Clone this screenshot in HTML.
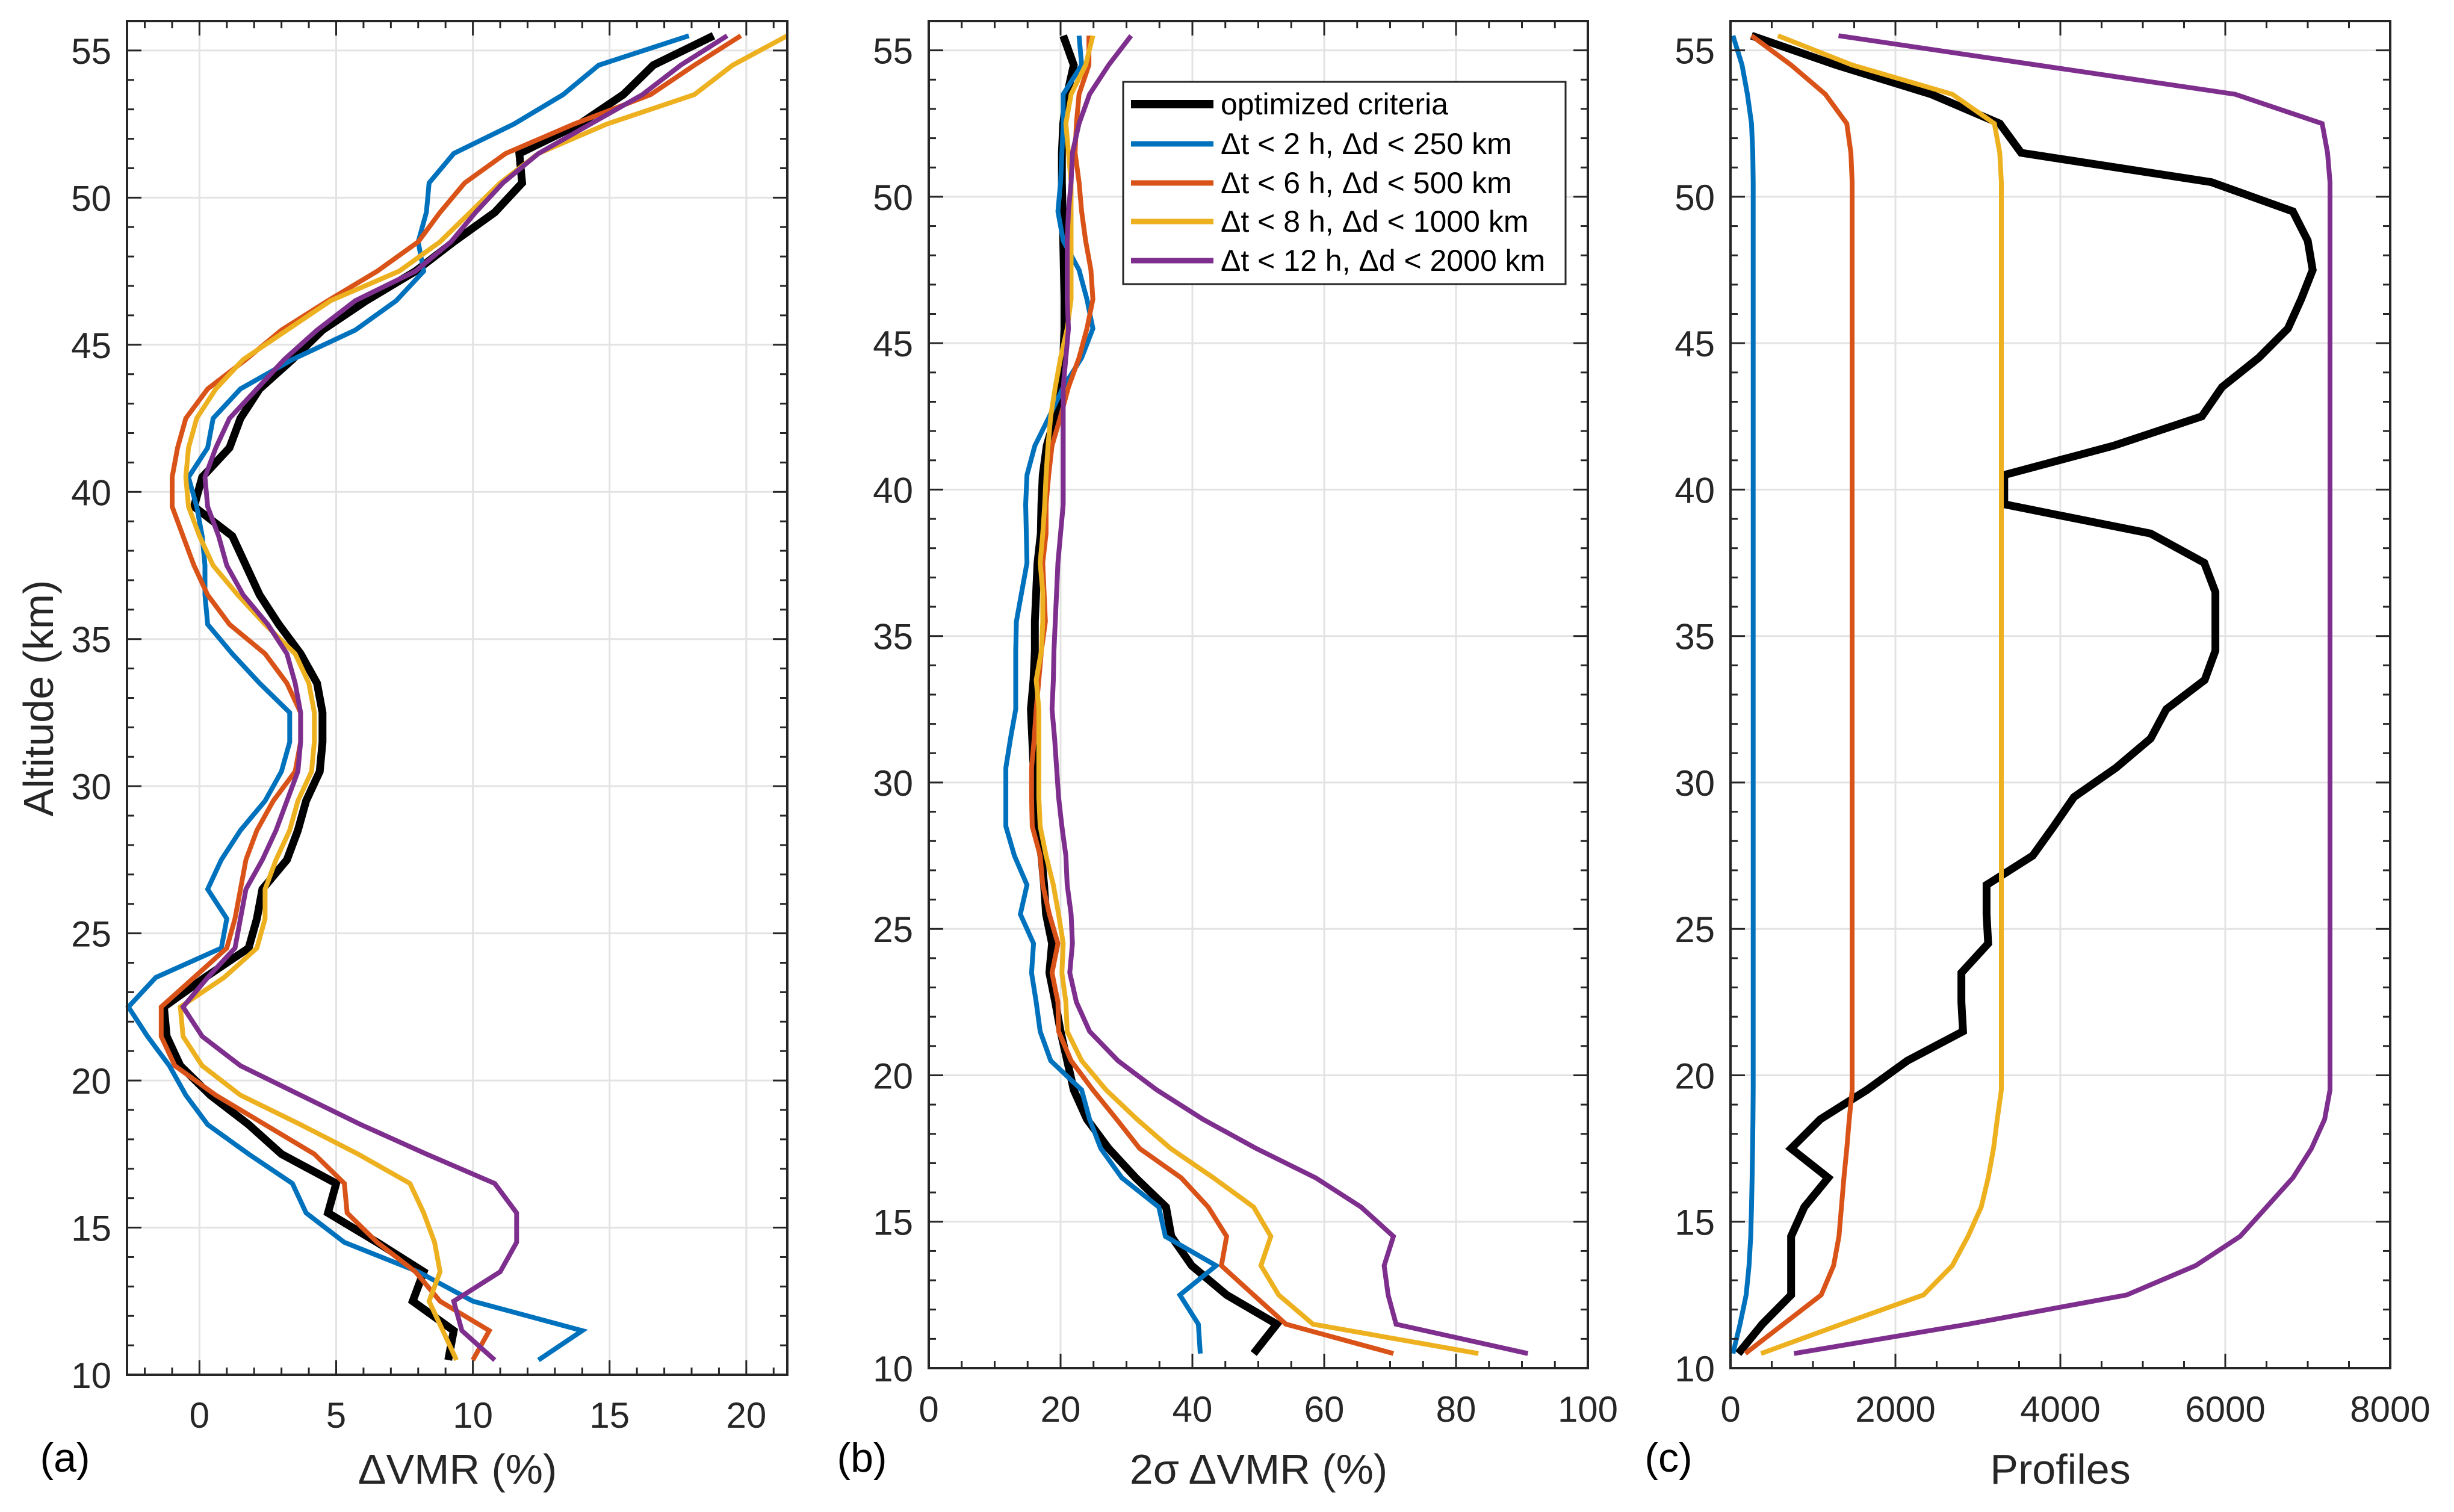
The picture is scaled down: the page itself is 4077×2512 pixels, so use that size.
<!DOCTYPE html>
<html><head><meta charset="utf-8"><style>
html,body{margin:0;padding:0;background:#fff}
svg{display:block;font-family:"Liberation Sans",Arial,sans-serif}
</style></head><body>
<svg id="fig" xmlns="http://www.w3.org/2000/svg" width="4077" height="2512" viewBox="0 0 4077 2512">
<rect width="4077" height="2512" fill="#fff"/>
</svg>
<script>
const alts = [55.5,54.5,53.5,52.5,51.5,50.5,49.5,48.5,47.5,46.5,45.5,44.5,43.5,42.5,41.5,40.5,39.5,38.5,37.5,36.5,35.5,34.5,33.5,32.5,31.5,30.5,29.5,28.5,27.5,26.5,25.5,24.5,23.5,22.5,21.5,20.5,19.5,18.5,17.5,16.5,15.5,14.5,13.5,12.5,11.5,10.5];
const seriesNames = ["optimized criteria","Δt < 2 h, Δd < 250 km","Δt < 6 h, Δd < 500 km","Δt < 8 h, Δd < 1000 km","Δt < 12 h, Δd < 2000 km"];
const yTicks = [10,15,20,25,30,35,40,45,50,55];
// panel a: ΔVMR (%)
const aBlack = [18.8,16.6,15.5,13.9,11.7,11.8,10.8,9.3,7.9,6.1,4.5,3.4,2.2,1.5,1.1,0.1,-0.2,1.2,1.7,2.2,2.9,3.7,4.3,4.5,4.5,4.4,3.9,3.6,3.2,2.3,2.1,1.8,0.2,-1.3,-1.2,-0.7,0.4,1.8,3.0,5.0,4.7,6.5,8.2,7.8,9.3,9.1];
const aBlue = [17.9,14.6,13.3,11.5,9.3,8.4,8.3,8.0,8.2,7.2,5.7,3.4,1.5,0.5,0.3,-0.4,-0.1,0.1,0.2,0.2,0.3,1.2,2.2,3.3,3.3,3.0,2.4,1.5,0.8,0.3,1.0,0.8,-1.6,-2.6,-1.9,-1.1,-0.5,0.3,1.8,3.4,3.9,5.3,8.0,10.0,14.0,12.4];
const aRed = [19.8,18.1,16.5,13.7,11.2,9.7,8.8,8.0,6.5,4.7,3.0,1.7,0.3,-0.5,-0.8,-1.0,-1.0,-0.6,-0.2,0.3,1.1,2.4,3.2,3.7,3.7,3.5,2.7,2.1,1.7,1.5,1.3,1.0,-0.2,-1.4,-1.4,-0.9,0.6,2.4,4.2,5.3,5.4,6.5,7.9,8.8,10.6,10.0];
const aYellow = [21.5,19.5,18.1,14.9,12.4,11.0,9.9,8.8,7.3,4.8,3.2,1.6,0.6,-0.1,-0.4,-0.5,-0.4,0.0,0.5,1.4,2.4,3.5,4.0,4.2,4.2,4.1,3.6,3.3,2.8,2.4,2.4,2.1,0.9,-0.7,-0.6,0.1,1.5,3.7,5.8,7.7,8.2,8.6,8.8,8.4,8.9,9.4];
const aPurple = [19.3,17.6,16.2,14.3,12.4,11.1,10.1,9.2,7.9,5.7,4.3,3.1,2.1,1.1,0.6,0.2,0.3,0.7,1.0,1.6,2.5,3.2,3.5,3.7,3.7,3.6,3.2,2.8,2.3,1.7,1.5,1.3,0.3,-0.6,0.1,1.5,3.7,5.9,8.3,10.8,11.6,11.6,11.0,9.3,9.6,10.8];
const aXTicks = [0,5,10,15,20];
// panel b: 2σ ΔVMR (%)
const bBlack = [20.4,22.0,21.0,20.4,20.2,20.2,20.3,20.4,20.5,20.6,20.6,20.4,20.0,19.2,17.9,17.3,17.1,17.0,16.5,16.3,16.1,16.1,15.9,15.5,15.7,15.9,16.1,16.3,17.1,17.5,17.8,18.7,18.3,19.2,20.0,21.0,22.0,24.0,27.3,31.4,36.0,36.8,39.9,45.2,52.8,49.3];
const bBlue = [22.8,23.2,20.4,20.4,20.2,20.0,19.6,20.4,22.8,24.0,24.9,23.2,20.4,18.3,16.1,14.9,14.7,14.8,14.9,14.1,13.3,13.2,13.2,13.2,12.4,11.7,11.7,11.7,13.0,14.9,13.9,15.9,15.6,16.3,16.9,18.5,23.2,24.4,26.1,29.3,34.9,35.9,43.6,38.1,40.9,41.2];
const bRed = [24.3,24.3,22.8,22.4,22.2,22.8,23.2,23.8,24.6,24.9,24.0,22.8,21.2,20.0,18.7,18.2,17.8,17.8,17.3,17.5,17.7,17.1,16.7,16.3,16.0,15.6,15.6,15.7,16.9,17.3,18.3,19.6,18.7,19.6,19.7,21.6,24.9,28.5,32.0,38.3,42.4,45.2,44.4,49.3,54.2,70.5];
const bYellow = [24.9,23.8,21.6,20.8,21.2,21.6,21.6,21.6,21.6,21.6,21.0,20.0,19.2,18.5,18.1,17.8,17.6,17.3,16.9,17.3,17.3,17.1,16.3,16.7,16.7,16.7,16.7,16.9,17.8,18.9,19.7,20.4,20.2,20.8,21.0,23.2,26.9,31.6,36.7,43.2,49.3,51.9,50.4,53.1,58.3,83.4];
const bPurple = [30.7,27.3,24.4,22.8,21.8,21.6,21.2,21.0,21.0,21.0,21.2,20.8,20.4,20.4,20.4,20.4,20.4,20.0,19.6,19.4,19.2,19.0,18.9,18.7,19.1,19.4,19.7,20.2,20.8,21.0,21.6,21.8,21.4,22.4,24.4,28.7,34.6,41.6,49.7,58.7,65.6,70.5,69.1,69.7,70.9,90.9];
const bXTicks = [0,20,40,60,80,100];
// panel c: Profiles
const cBlack = [255,1280,2435,3265,3525,5830,6820,7000,7060,6920,6760,6405,5960,5715,4645,3320,3320,5095,5745,5880,5880,5880,5750,5285,5095,4675,4165,3920,3665,3105,3105,3125,2800,2800,2820,2145,1655,1090,735,1185,895,735,735,735,385,95];
const cBlue = [30,140,205,255,270,275,275,275,275,275,275,275,275,275,275,275,275,275,275,275,275,275,275,275,275,275,275,275,275,275,275,275,275,275,275,275,275,272,268,262,255,245,225,190,115,30];
const cRed = [255,735,1150,1410,1460,1475,1475,1475,1475,1475,1475,1475,1475,1475,1475,1475,1475,1475,1475,1475,1475,1475,1475,1475,1475,1475,1475,1475,1475,1475,1475,1475,1475,1475,1475,1475,1475,1440,1410,1375,1345,1315,1250,1100,640,180];
const cYellow = [575,1475,2690,3200,3265,3285,3285,3285,3285,3285,3285,3285,3285,3285,3285,3285,3285,3285,3285,3285,3285,3285,3285,3285,3285,3285,3285,3285,3285,3285,3285,3285,3285,3285,3285,3285,3285,3235,3190,3125,3040,2880,2690,2340,1345,370];
const cPurple = [1310,3715,6120,7175,7240,7270,7270,7270,7270,7270,7270,7270,7270,7270,7270,7270,7270,7270,7270,7270,7270,7270,7270,7270,7270,7270,7270,7270,7270,7270,7270,7270,7270,7270,7270,7270,7270,7205,7045,6820,6500,6180,5640,4805,2880,770];
const cXTicks = [0,2000,4000,6000,8000];

const NS = "http://www.w3.org/2000/svg";
const svg = document.getElementById('fig');
const COLORS = ["#000000","#0072BD","#D95319","#EDB120","#7E2F8E"];
const WIDTHS = [13,8,8,8,8];
function mk(tag, attrs, parent){
  const e = document.createElementNS(NS, tag);
  for (const k in attrs) e.setAttribute(k, attrs[k]);
  (parent||svg).appendChild(e);
  return e;
}
const panels = [
  {id:'a', L:211, R:1308, T:35, B:2284, xmin:-2.65, xmax:21.5, ticks:aXTicks, minor:1, series:[aBlack,aBlue,aRed,aYellow,aPurple], xlabel:'ΔVMR (%)', xlabX:760, tag:'(a)', tagX:108, tickBase:2372},
  {id:'b', L:1543, R:2638, T:35, B:2273, xmin:0, xmax:100, ticks:bXTicks, minor:5, series:[bBlack,bBlue,bRed,bYellow,bPurple], xlabel:'2σ ΔVMR (%)', xlabX:2091, tag:'(b)', tagX:1432, tickBase:2362},
  {id:'c', L:2875, R:3971, T:35, B:2273, xmin:0, xmax:8000, ticks:cXTicks, minor:500, series:[cBlack,cBlue,cRed,cYellow,cPurple], xlabel:'Profiles', xlabX:3423, tag:'(c)', tagX:2772, tickBase:2362}
];
panels.forEach(p=>{
  const g = mk('g',{});
  
  
  const xs = v => p.L + (v - p.xmin)/(p.xmax - p.xmin)*(p.R - p.L);
  const ys = a => p.B - (a - 10)/(56 - 10)*(p.B - p.T);
  p.ticks.forEach(t=>{
    const l = mk('line',{x1:xs(t),x2:xs(t),y1:p.T,y2:p.B,stroke:'#e3e3e3','stroke-width':3},g);
    
    
  });
  yTicks.forEach(t=>{
    const l = mk('line',{x1:p.L,x2:p.R,y1:ys(t),y2:ys(t),stroke:'#e3e3e3','stroke-width':3},g);
    
    
  });
  p.series.forEach((vals,si)=>{
    const pts = vals.map((v,i)=> xs(v).toFixed(1)+','+ys(alts[i]).toFixed(1)).join(' ');
    const pl = mk('polyline',{points:pts,fill:'none',stroke:COLORS[si],'stroke-width':WIDTHS[si],'stroke-linejoin':'miter','stroke-miterlimit':3},g);
    
    
  });
  const tk = mk('g',{stroke:'#262626','stroke-width':3},g);
  
  
  for (let v = Math.ceil(p.xmin/p.minor)*p.minor; v <= p.xmax+1e-9; v += p.minor){
    const major = p.ticks.some(t=>Math.abs(t-v)<1e-6);
    const len = major?24:12, x = xs(v);
    mk('line',{x1:x,x2:x,y1:p.B,y2:p.B-len},tk);
    mk('line',{x1:x,x2:x,y1:p.T,y2:p.T+len},tk);
  }
  for (let a = 10; a <= 56; a++){
    const len = (a%5===0)?24:12, y = ys(a);
    mk('line',{x1:p.L,x2:p.L+len,y1:y,y2:y},tk);
    mk('line',{x1:p.R,x2:p.R-len,y1:y,y2:y},tk);
  }
  const box = mk('rect',{x:p.L,y:p.T,width:p.R-p.L,height:p.B-p.T,fill:'none',stroke:'#262626','stroke-width':4},g);
  
  
  p.ticks.forEach(t=>{
    const tx = mk('text',{x:xs(t),y:p.tickBase,'font-size':60,'text-anchor':'middle',fill:'#262626'},g);
    tx.textContent = t;
    
    
  });
  yTicks.forEach(t=>{
    const tx = mk('text',{x:p.L-26,y:ys(t)+22,'font-size':60,'text-anchor':'end',fill:'#262626'},g);
    tx.textContent = t;
    
    
  });
  const xl = mk('text',{x:p.xlabX,y:2465,'font-size':70,'text-anchor':'middle',fill:'#262626'},g);
  xl.textContent = p.xlabel;
  
  
  const tg = mk('text',{x:p.tagX,y:2445,'font-size':68,'text-anchor':'middle',fill:'#000'},g);
  tg.textContent = p.tag;
  
  
});
const yl = mk('text',{x:0,y:0,'font-size':70,'text-anchor':'middle',fill:'#262626',transform:'translate(88,1160) rotate(-90)'});
yl.textContent = 'Altitude (km)';


const lg = mk('g',{});


mk('rect',{x:1866,y:136,width:735,height:336,fill:'#fff',stroke:'#262626','stroke-width':3},lg);
const legY = [173,239,304,368,433];
seriesNames.forEach((n,i)=>{
  const ln = mk('line',{x1:1879,x2:2016,y1:legY[i],y2:legY[i],stroke:COLORS[i],'stroke-width':i===0?14:9},lg);
  
  
  const t = mk('text',{x:2028,y:legY[i]+17,'font-size':50,fill:'#000'},lg);
  t.textContent = n;
  
  
});
</script>
</body></html>
